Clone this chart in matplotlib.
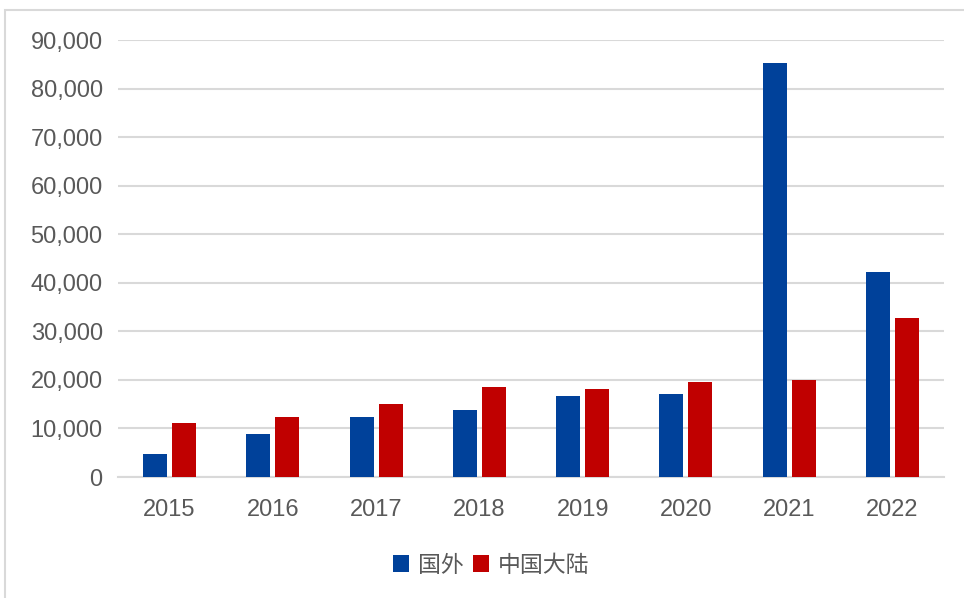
import numpy as np
import matplotlib.pyplot as plt
from matplotlib.patches import Rectangle
from matplotlib.ticker import FuncFormatter

plt.rcParams['font.family'] = ['Liberation Sans', 'Noto Sans CJK SC', 'DejaVu Sans']

years = ['2015', '2016', '2017', '2018', '2019', '2020', '2021', '2022']
foreign = [4750, 8900, 12400, 13850, 16750, 17150, 85300, 42150]      # 国外
mainland = [11150, 12400, 15100, 18600, 18200, 19650, 20050, 32650]   # 中国大陆

blue = '#00419A'
red = '#C00000'
grey = '#595959'

fig = plt.figure(figsize=(9.64, 5.98), dpi=100)
# chart frame
fig.patches.append(Rectangle((5 / 964, -0.1), 1.1, (598 - 10) / 598 + 0.1,
                             transform=fig.transFigure, fill=False,
                             edgecolor='#d9d9d9', linewidth=1.5))

ax = fig.add_axes([118 / 964, 121 / 598, 826 / 964, 437 / 598])

x = np.arange(len(years))
w = 0.233
off = 0.14
ax.bar(x - off, foreign, w, color=blue, label='国外', zorder=3)
ax.bar(x + off, mainland, w, color=red, label='中国大陆', zorder=3)

ax.set_xlim(-0.5, len(years) - 0.5)
ax.set_ylim(0, 90000)
ax.set_yticks(np.arange(0, 90001, 10000))
ax.yaxis.set_major_formatter(FuncFormatter(lambda v, p: '{:,.0f}'.format(v)))
ax.set_xticks(x)
ax.set_xticklabels(years)
ax.grid(axis='y', color='#d9d9d9', linewidth=1.5, zorder=0)
ax.tick_params(length=0, labelsize=17, labelcolor=grey)
ax.tick_params(axis='x', pad=16)
ax.tick_params(axis='y', pad=11)
for s in ['top', 'right', 'left']:
    ax.spines[s].set_visible(False)
ax.spines['bottom'].set_color('#d9d9d9')
ax.spines['bottom'].set_linewidth(1.5)

leg = fig.legend(loc='center', bbox_to_anchor=(491 / 964, 1 - 565 / 598), ncol=2,
                 frameon=False, fontsize=16.5, handlelength=0.7, handleheight=0.7,
                 handletextpad=0.4, columnspacing=0.4)
for t in leg.get_texts():
    t.set_color(grey)
    t.set_family(['Noto Sans CJK SC', 'DejaVu Sans'])

fig.savefig('out.png', dpi=100)
